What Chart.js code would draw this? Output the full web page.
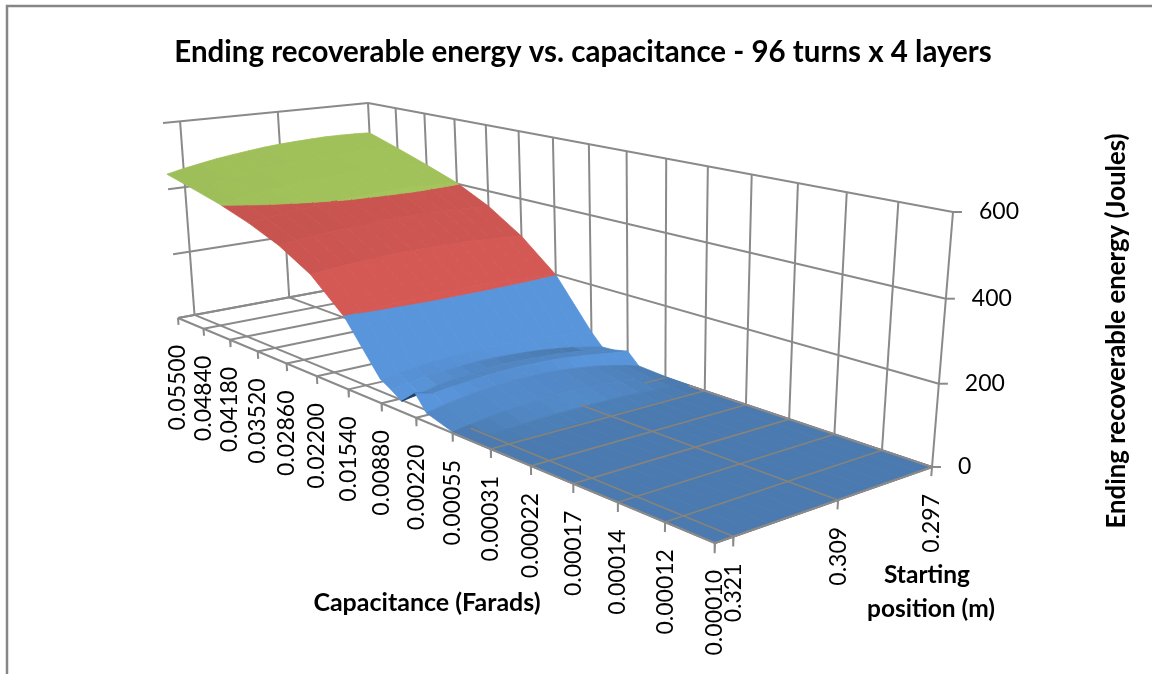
<!DOCTYPE html>
<html>
<head>
<meta charset="utf-8">
<title>Ending recoverable energy vs. capacitance</title>
<script src="https://cdn.jsdelivr.net/npm/chart.js@4/dist/chart.umd.min.js"></script>
<style>
  html, body { margin: 0; padding: 0; background: #fff; }
  canvas { display: block; }
</style>
</head>
<body>
<canvas id="surfaceChart" width="1152" height="674"></canvas>
<script>
const chartTitle = 'Ending recoverable energy vs. capacitance - 96 turns x 4 layers';
const capLabels = ['0.05500', '0.04840', '0.04180', '0.03520', '0.02860', '0.02200', '0.01540', '0.00880',
    '0.00220', '0.00055', '0.00031', '0.00022', '0.00017', '0.00014', '0.00012', '0.00010'];
const posValues = [0.297, 0.299, 0.301, 0.303, 0.305, 0.307, 0.309, 0.311, 0.313, 0.315, 0.317, 0.319, 0.321, 0.323];
const posLabelled = [0.297, 0.309, 0.321];
const energyTicks = [0, 200, 400, 600];
const bandColors = [
    { lo: 0, hi: 200, flat: [74, 122, 175], steep: [89, 149, 219], from: 3, to: 60 },
    { lo: 200, hi: 400, flat: [200, 84, 80], steep: [214, 89, 85], from: 40, to: 95 },
    { lo: 400, hi: 600, flat: [156, 188, 88], steep: [164, 196, 92], from: 15, to: 45 }
];

// places along the capacitance axis where a column of the surface was read (1 = one labelled step)
const capStops = [0, 1, 2, 3, 4, 5, 6, 7, 7.3, 7.6, 8, 8.3, 9, 9.5, 10, 11, 12, 13, 14, 15];
// energy in joules, one list per cap stop, one value per entry of posValues
const energyByStop = [
    [502, 504, 505, 505, 503, 501, 498, 494, 488, 482, 475, 466, 457, 446],
    [471, 474, 474, 475, 473, 472, 469, 466, 461, 456, 449, 442, 433, 424],
    [438, 440, 442, 442, 442, 441, 439, 436, 432, 428, 422, 416, 409, 401],
    [403, 405, 406, 408, 407, 406, 404, 403, 399, 395, 390, 386, 379, 372],
    [354, 357, 359, 360, 361, 361, 360, 359, 356, 354, 350, 345, 341, 335],
    [288, 292, 294, 298, 299, 300, 300, 300, 299, 297, 294, 291, 287, 282],
    [200, 204, 208, 210, 211, 213, 213, 213, 213, 211, 208, 205, 201, 197],
    [62, 68, 74, 78, 82, 84, 85, 86, 85, 83, 80, 76, 71, 65],
    [28, 38, 47, 54, 60, 64, 67, 69, 69, 67, 65, 61, 55, 48],
    [30, 39, 47, 53, 57, 60, 62, 63, 61, 57, 53, 47, 36, 28],
    [40, 45, 52, 58, 63, 66, 68, 69, 68, 66, 62, 58, 52, 64],
    [8, 20, 30, 39, 45, 50, 53, 54, 54, 52, 47, 41, 34, 24],
    [3, 10, 17, 22, 26, 28, 30, 30, 28, 26, 22, 17, 10, 3],
    [2, 5, 7, 9, 11, 12, 12, 12, 12, 11, 9, 7, 5, 2],
    [1, 2, 3, 3, 4, 5, 5, 5, 5, 4, 3, 3, 2, 1],
    [1, 1, 2, 2, 2, 2, 2, 2, 2, 2, 2, 2, 1, 1],
    [1, 1, 1, 1, 1, 1, 1, 1, 1, 1, 1, 1, 1, 1],
    [1, 1, 1, 1, 1, 1, 1, 1, 1, 1, 1, 1, 1, 1],
    [1, 1, 1, 1, 1, 1, 1, 1, 1, 1, 1, 1, 1, 1],
    [1, 1, 1, 1, 1, 1, 1, 1, 1, 1, 1, 1, 1, 1]
];

// the box as seen on the page, corners in order: back left, back right, front right, front left
const floorCorners = [[377, 281], [932, 467], [715, 543], [178, 318]];
const topCorners = [[368, 103], [953, 212], [725, 257], [163, 123]];
const energyMax = 600;
const gridColor = '#8a8a8a';
const gridOnSurface = '#85837d';

// the x and y scales run in page pixels, plotLeft and plotTop are what the title layout takes away
const plotLeft = 14;
const titleSize = 29.5, titlePadTop = 35, titlePadBottom = 6;
const plotTop = titlePadTop + titleSize * 1.2 + titlePadBottom;

function squareToQuad(q) {
    const [[x0, y0], [x1, y1], [x2, y2], [x3, y3]] = q;
    const dx1 = x1 - x2, dx2 = x3 - x2, sx = x0 - x1 + x2 - x3;
    const dy1 = y1 - y2, dy2 = y3 - y2, sy = y0 - y1 + y2 - y3;
    const den = dx1 * dy2 - dx2 * dy1;
    const g = (sx * dy2 - dx2 * sy) / den, h = (dx1 * sy - sx * dy1) / den;
    const a = x1 - x0 + g * x1, b = x3 - x0 + h * x3;
    const d = y1 - y0 + g * y1, e = y3 - y0 + h * y3;
    return (u, w) => {
        const k = g * u + h * w + 1;
        return { x: (a * u + b * w + x0) / k, y: (d * u + e * w + y0) / k };
    };
}
const floorMap = squareToQuad(floorCorners);
const topMap = squareToQuad(topCorners);
const capEnd = capLabels.length - 1;
const posEnd = posValues.length - 1;

function at(c, r, z) {
    const f = floorMap(c / capEnd, r / posEnd), t = topMap(c / capEnd, r / posEnd);
    let k = z / energyMax;
    k -= 0.03 * k * (1 - k); // heights bunch up a little towards the floor
    return { x: f.x + (t.x - f.x) * k, y: f.y + (t.y - f.y) * k };
}

const behind = [], surface = [], above = [];

function addLine(list, points, color, width) {
    list.push({ data: points, borderColor: color, borderWidth: width, backgroundColor: color,
        pointRadius: 0, showLine: true, fill: false, clip: false, tension: 0 });
}
function addPolygon(list, points, color) {
    const closed = points.concat([points[0]]);
    list.push({ data: closed, borderColor: color, borderWidth: 0.8, backgroundColor: color,
        pointRadius: 0, showLine: true, fill: 'shape', clip: false, tension: 0 });
}

// walls and floor
energyTicks.forEach(z => {
    if (z > 0) addLine(behind, [at(0, posEnd, z), at(0, 0, z)], gridColor, 2);
    addLine(behind, [at(0, 0, z), at(capEnd, 0, z)], gridColor, 2);
    const p = at(capEnd, 0, z);
    addLine(behind, [p, { x: p.x + 9, y: p.y }], gridColor, 2);
});
capLabels.forEach((lab, c) => {
    addLine(behind, [at(c, 0, 0), at(c, 0, energyMax)], gridColor, 2);
    addLine(behind, [at(c, 0, 0), at(c, posEnd, 0)], gridColor, 2);
    addLine(behind, [at(c, posEnd, 0), at(c, posEnd, -22)], gridColor, 2);
});
posLabelled.forEach(pos => {
    const r = posValues.indexOf(pos);
    if (r > 0) {
        addLine(behind, [at(0, r, 0), at(0, r, energyMax)], gridColor, 2);
        addLine(behind, [at(0, r, 0), at(capEnd, r, 0)], gridColor, 2);
    }
    addLine(behind, [at(capEnd, r, 0), at(capEnd, r, -22)], gridColor, 2);
});
addLine(behind, [at(0, posEnd, 0), at(capEnd, posEnd, 0)], gridColor, 2);
addLine(behind, [at(capEnd, posEnd, 0), at(capEnd, 0, 0)], gridColor, 2);
addLine(behind, [at(0, posEnd, 0), at(0, 0, 0)], gridColor, 2);

// keep the part of a cell that lies inside one colour band
function clipToBand(corners, lo, hi) {
    const cut = (poly, inside, level) => {
        const out = [];
        poly.forEach((p, i) => {
            const q = poly[(i + 1) % poly.length];
            if (inside(p)) out.push(p);
            if (inside(p) !== inside(q)) {
                const t = (level - p.z) / (q.z - p.z);
                out.push({ c: p.c + (q.c - p.c) * t, r: p.r + (q.r - p.r) * t, z: level });
            }
        });
        return out;
    };
    const first = cut(corners, p => p.z >= lo, lo);
    return first.length ? cut(first, p => p.z <= hi, hi) : first;
}
function signedArea(pts) {
    let sum = 0;
    pts.forEach((p, i) => {
        const q = pts[(i + 1) % pts.length];
        sum += p.x * q.y - q.x * p.y;
    });
    return sum / 2;
}
function shade(band, slope) {
    const t = Math.min(1, Math.max(0, (slope - band.from) / (band.to - band.from)));
    const mix = band.flat.map((v, i) => Math.round(v + (band.steep[i] - v) * t));
    return `rgb(${mix[0]},${mix[1]},${mix[2]})`;
}

for (let r = 0; r < posEnd; r++) {
    for (let s = 0; s < capStops.length - 1; s++) {
        const c0 = capStops[s], c1 = capStops[s + 1];
        const corners = [
            { c: c0, r: r, z: energyByStop[s][r] },
            { c: c1, r: r, z: energyByStop[s + 1][r] },
            { c: c1, r: r + 1, z: energyByStop[s + 1][r + 1] },
            { c: c0, r: r + 1, z: energyByStop[s][r + 1] }
        ];
        const drop = (corners[0].z + corners[3].z - corners[1].z - corners[2].z) / 2 / (c1 - c0);
        bandColors.forEach(band => {
            const piece = clipToBand(corners, band.lo, band.hi);
            if (piece.length < 3) return;
            const pts = piece.map(p => at(p.c, p.r, p.z));
            // facets that lean away are only a little darker, a reversed one shows the underside
            const color = signedArea(pts) < 0 ? '#1f3f66' : shade(band, drop >= 0 ? drop : 28);
            addPolygon(surface, pts, color);
        });
    }
}

// floor lines that stay visible through the flat part of the surface
[10, 11, 12, 13, 14].forEach(c => addLine(above, [at(c, 0, 0), at(c, posEnd, 0)], gridOnSurface, 1.6));
addLine(above, [at(9, 0, 0), at(9, 1.4, 0)], gridOnSurface, 1.4);
addLine(above, [at(9.2, 6, 0), at(capEnd, 6, 0)], gridOnSurface, 1.6);
addLine(above, [at(9, 12, 0), at(capEnd, 12, 0)], gridOnSurface, 1.6);
addLine(above, [at(9, posEnd, 0), at(capEnd, posEnd, 0)], gridColor, 2);
addLine(above, [at(capEnd, posEnd, 0), at(capEnd, 0, 0)], gridColor, 2);
addLine(above, [at(9.6, 0, 0), at(capEnd, 0, 0)], gridColor, 2);

const textPlugin = {
    id: 'boxText',
    beforeDraw(chart) {
        const ctx = chart.ctx;
        ctx.save();
        ctx.strokeStyle = '#868686';
        ctx.lineWidth = 2.5;
        ctx.beginPath();
        ctx.moveTo(7, 674);
        ctx.lineTo(7, 6);
        ctx.lineTo(1152, 6);
        ctx.stroke();
        ctx.restore();
    },
    afterDraw(chart) {
        const ctx = chart.ctx;
        const xs = chart.scales.x, ys = chart.scales.y;
        const px = p => ({ x: xs.getPixelForValue(p.x), y: ys.getPixelForValue(p.y) });
        ctx.save();
        ctx.fillStyle = '#000';
        ctx.font = '23px Lato';
        ctx.textBaseline = 'middle';
        const upright = (text, p) => {
            ctx.save();
            ctx.translate(p.x, p.y + 27);
            ctx.rotate(-Math.PI / 2);
            ctx.textAlign = 'right';
            ctx.fillText(text, 0, 0);
            ctx.restore();
        };
        capLabels.forEach((lab, c) => upright(lab, px(at(c, posEnd, 0))));
        posLabelled.forEach(pos => upright(pos.toFixed(3), px(at(capEnd, posValues.indexOf(pos), 0))));
        ctx.textAlign = 'left';
        energyTicks.forEach(z => {
            const p = px(at(capEnd, 0, z));
            ctx.fillText(String(z), p.x + 26, p.y);
        });
        ctx.font = 'bold 25px Lato';
        ctx.textAlign = 'center';
        ctx.fillText('Capacitance (Farads)', 427, 603);
        ctx.font = 'bold 24.5px Lato';
        ctx.fillText('Starting', 927, 575);
        ctx.fillText('position (m)', 931, 609);
        ctx.font = 'bold 25.8px Lato';
        ctx.translate(1117, 331);
        ctx.rotate(-Math.PI / 2);
        ctx.fillText('Ending recoverable energy (Joules)', 0, 0);
        ctx.restore();
    }
};

const ctx = document.getElementById('surfaceChart').getContext('2d');
new Chart(ctx, {
    type: 'scatter',
    // datasets are painted last to first, so the list runs front to back
    data: { datasets: behind.concat(surface, above).reverse() },
    plugins: [textPlugin],
    options: {
        responsive: false,
        animation: false,
        events: [],
        layout: { padding: { left: plotLeft } },
        scales: {
            x: { type: 'linear', display: false, min: plotLeft, max: 1152 },
            y: { type: 'linear', display: false, min: plotTop, max: 674, reverse: true }
        },
        plugins: {
            legend: { display: false },
            tooltip: { enabled: false },
            title: {
                display: true,
                text: chartTitle,
                fullSize: false,
                color: '#000',
                font: { family: 'Lato', size: titleSize, weight: 'bold', lineHeight: 1.2 },
                padding: { top: titlePadTop, bottom: titlePadBottom }
            }
        }
    }
});
</script>
</body>
</html>
